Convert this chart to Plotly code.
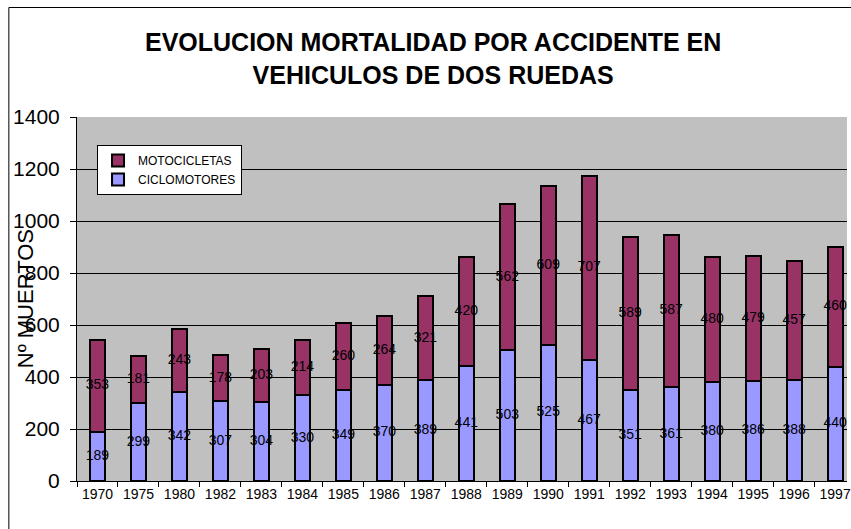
import plotly.graph_objects as go

# datos
years = ['1970', '1975', '1980', '1982', '1983', '1984', '1985', '1986', '1987', '1988',
         '1989', '1990', '1991', '1992', '1993', '1994', '1995', '1996', '1997']
ciclomotores = [189, 299, 342, 307, 304, 330, 349, 370, 389, 441,
                503, 525, 467, 351, 361, 380, 386, 388, 440]
motocicletas = [353, 181, 243, 178, 203, 214, 260, 264, 321, 420,
                562, 609, 707, 589, 587, 480, 479, 457, 460]
y_ticks = [0, 200, 400, 600, 800, 1000, 1200, 1400]

FONT = "Arial, Liberation Sans, sans-serif"
colCiclo = '#9999FF'
colMoto = '#993366'

fig = go.Figure()

fig.add_trace(go.Bar(name='CICLOMOTORES', x=years, y=ciclomotores,
                     width=0.37,
                     marker=dict(color=colCiclo, line=dict(color='black', width=2))))
fig.add_trace(go.Bar(name='MOTOCICLETAS', x=years, y=motocicletas,
                     width=0.37,
                     marker=dict(color=colMoto, line=dict(color='black', width=2))))

# etiquetas de datos centradas en cada segmento
mid_ciclo = [c / 2 for c in ciclomotores]
mid_moto = [c + m / 2 for c, m in zip(ciclomotores, motocicletas)]
for vals, mids in [(ciclomotores, mid_ciclo), (motocicletas, mid_moto)]:
    fig.add_trace(go.Scatter(x=years, y=mids, text=[str(v) for v in vals],
                             mode='text', showlegend=False, hoverinfo='skip',
                             cliponaxis=False,
                             textfont=dict(family=FONT, size=14, color='black')))

fig.update_layout(
    barmode='stack',
    width=851, height=529,
    margin=dict(l=77, r=0, t=117, b=48),
    paper_bgcolor='white',
    plot_bgcolor='#C0C0C0',
    font=dict(family=FONT, color='black'),
    title=dict(text='EVOLUCION MORTALIDAD POR ACCIDENTE EN<br>VEHICULOS DE DOS RUEDAS',
               font=dict(family=FONT, size=25, color='black', weight='bold'),
               x=0.509, xanchor='center', xref='container',
               y=0.903, yanchor='middle', yref='container'),
    legend=dict(x=0.026, y=0.923, xanchor='left', yanchor='top',
                bgcolor='white', bordercolor='black', borderwidth=1,
                traceorder='reversed', itemwidth=30,
                font=dict(family=FONT, size=12, color='black')),
    showlegend=True,
)

fig.update_xaxes(type='category', range=[-0.5, 18.29],
                 showline=True, linecolor='black', linewidth=1,
                 ticks='outside', tickson='boundaries', ticklen=5, tickcolor='black',
                 tickfont=dict(family=FONT, size=14, color='black'),
                 showgrid=False)
fig.update_yaxes(range=[0, 1400], tickvals=y_ticks,
                 showline=True, linecolor='black', linewidth=1,
                 ticks='outside', ticklen=6, tickcolor='black',
                 ticklabelstandoff=6,
                 tickfont=dict(family=FONT, size=21, color='black'),
                 showgrid=True, gridcolor='black', gridwidth=1, zeroline=False)

# titulo del eje Y superpuesto como en el original
fig.add_annotation(text='Nº MUERTOS', textangle=-90, xref='paper', yref='paper',
                   x=-0.0672, y=0.5, xanchor='center', yanchor='middle',
                   showarrow=False,
                   font=dict(family=FONT, size=22, color='black'))

# borde del area del grafico
fig.add_shape(type='rect', xref='paper', yref='paper',
              x0=-0.0885, y0=-0.3, x1=1.1, y1=1.3008,
              line=dict(color='black', width=1), layer='above')

# quitar el margen por defecto de la pagina para que el lienzo ocupe toda la ventana
fig.write_html("out.html", config={'displayModeBar': False},
               post_script="document.body.style.margin='0';")
